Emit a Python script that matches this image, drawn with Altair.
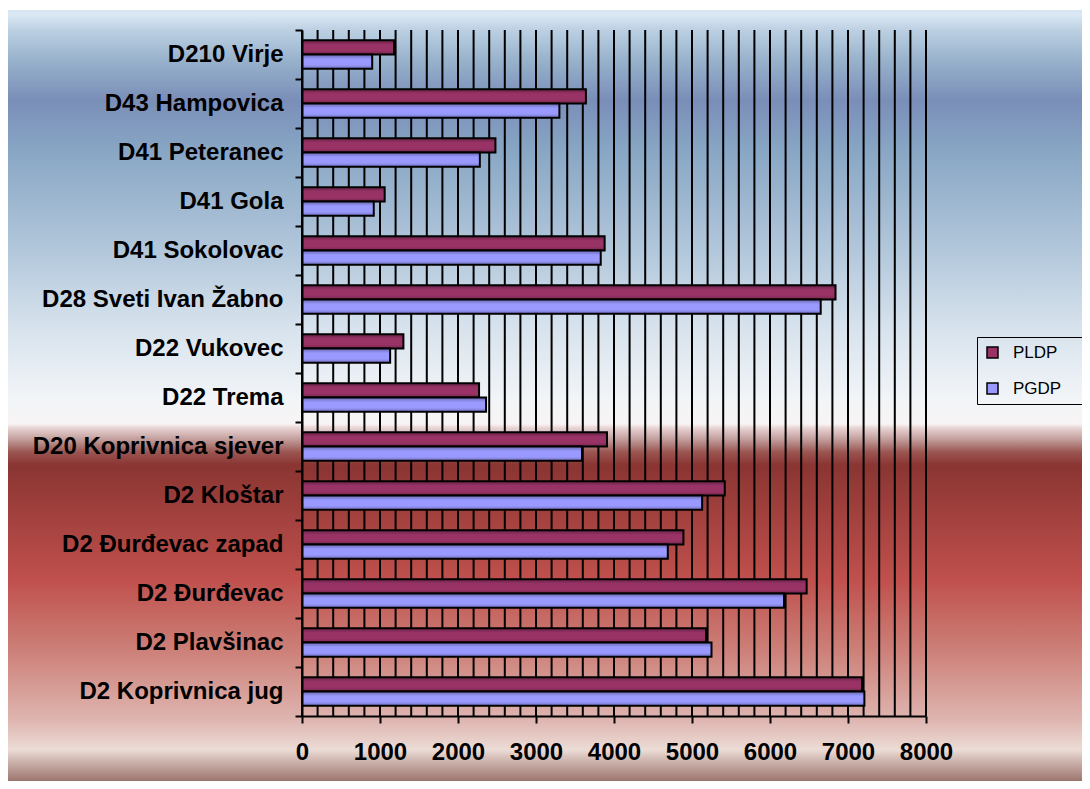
import altair as alt
import pandas as pd

categories = ["D210 Virje", "D43 Hampovica", "D41 Peteranec", "D41 Gola", "D41 Sokolovac",
              "D28 Sveti Ivan Žabno", "D22 Vukovec", "D22 Trema", "D20 Koprivnica sjever",
              "D2 Kloštar", "D2 Đurđevac zapad", "D2 Đurđevac", "D2 Plavšinac", "D2 Koprivnica jug"]
series = ["PLDP", "PGDP"]
pldp = [1180, 3640, 2480, 1060, 3880, 6840, 1300, 2270, 3910, 5420, 4890, 6470, 5180, 7180]
pgdp = [900, 3300, 2280, 920, 3830, 6650, 1130, 2360, 3590, 5130, 4690, 6180, 5250, 7210]
x_ticks = [0, 1000, 2000, 3000, 4000, 5000, 6000, 7000, 8000]
grid_values = list(range(0, 8001, 200))
colors = ["#993366", "#9999ff"]

rows = []
for c, a, b in zip(categories, pldp, pgdp):
    rows.append({"category": c, "series": "PLDP", "value": a})
    rows.append({"category": c, "series": "PGDP", "value": b})
df = pd.DataFrame(rows)
grid_df = pd.DataFrame({"g": grid_values})

W, H = 624, 686
FONT = "Liberation Sans, Arial, sans-serif"

xscale = alt.Scale(domain=[0, 8000], nice=False, zero=True)

bg_stops = [(10, "#d4e3f0"), (14, "#dce9f5"), (30, "#bcd0e2"), (60, "#98b2cc"), (100, "#7a8eb8"),
            (150, "#88a6c4"), (250, "#b2c7db"), (330, "#d8e3ed"), (400, "#f2f5f8"), (424, "#f8f4f4"),
            (428, "#e8d4d4"), (440, "#c09a98"), (452, "#9a5652"), (465, "#8a3532"), (580, "#c0504d"),
            (650, "#cc8078"), (720, "#dfb5b0"), (750, "#ecdcd6"), (758, "#d5bfb8"), (770, "#b89892"),
            (781, "#9c766e")]
bg_grad = alt.Gradient(
    gradient="linear", x1=0, x2=0, y1=0, y2=1,
    stops=[alt.GradientStop(color=c, offset=(y - 10) / 771) for y, c in bg_stops],
)

bg = alt.Chart(alt.Data(values=[{"a": 1}])).mark_rect(fill=bg_grad, strokeWidth=0).encode(
    x=alt.value(-295), x2=alt.value(780), y=alt.value(-20), y2=alt.value(751)
)

xaxis = alt.Axis(title=None, values=x_ticks, format="d", grid=False, labelFont=FONT, labelFontSize=24,
                 labelFontWeight="bold", labelColor="black", tickSize=7, tickWidth=2,
                 tickColor="black", domainColor="black", domainWidth=2,
                 labelPadding=17, labelFlush=False, zindex=1)
yaxis = alt.Axis(title=None, labelFont=FONT, labelFontSize=24, labelFontWeight="bold",
                 labelColor="black", tickBand="extent", tickSize=7, tickWidth=2,
                 tickColor="black", domainColor="black", domainWidth=2,
                 labelPadding=12, labelLimit=400, zindex=1)

grid = alt.Chart(grid_df).mark_rule(color="black", strokeWidth=2).encode(
    x=alt.X("g:Q", scale=xscale, axis=xaxis)
)

yenc = alt.Y("category:N", sort=categories,
             scale=alt.Scale(paddingInner=0, paddingOuter=0), axis=yaxis)
yoff = alt.YOffset("series:N", sort=series, scale=alt.Scale(paddingOuter=0.72, paddingInner=0))
xenc = alt.X("value:Q", scale=xscale, axis=xaxis)

bars = alt.Chart(df).mark_bar(stroke="black", strokeWidth=2).encode(
    y=yenc, yOffset=yoff, x=xenc,
    color=alt.Color("series:N", sort=series,
                    scale=alt.Scale(domain=series, range=colors),
                    legend=alt.Legend(title="W", titleOrient="right", titleColor="rgba(0,0,0,0)",
                                      titleFontSize=12, titlePadding=4,
                                      orient="none", legendX=675, legendY=307,
                                      symbolType="square", symbolSize=121,
                                      symbolStrokeColor="black", symbolStrokeWidth=1.5,
                                      labelFont=FONT, labelFontSize=17, labelColor="black",
                                      labelOffset=12, rowPadding=18, padding=7,
                                      strokeColor="black")),
)

shade = alt.Gradient(
    gradient="linear", x1=0, x2=0, y1=0, y2=1,
    stops=[alt.GradientStop(color="rgba(0,0,0,0.32)", offset=0),
           alt.GradientStop(color="rgba(0,0,0,0)", offset=0.32),
           alt.GradientStop(color="rgba(0,0,0,0)", offset=0.72),
           alt.GradientStop(color="rgba(0,0,0,0.25)", offset=1)],
)
overlay = alt.Chart(df).mark_bar(fill=shade, strokeWidth=0).encode(
    y=alt.Y("category:N", sort=categories, axis=yaxis), yOffset=yoff,
    x=alt.X("value:Q", scale=xscale, axis=xaxis),
)

chart = alt.layer(bg, grid, bars, overlay).properties(
    width=W, height=H,
    autosize=alt.AutoSizeParams(type="none"),
    padding={"left": 294, "top": 22, "right": 156, "bottom": 65},
).configure_view(stroke=None).configure(background="white")

chart.save("out.html", embed_options={"renderer": "svg", "actions": False})
